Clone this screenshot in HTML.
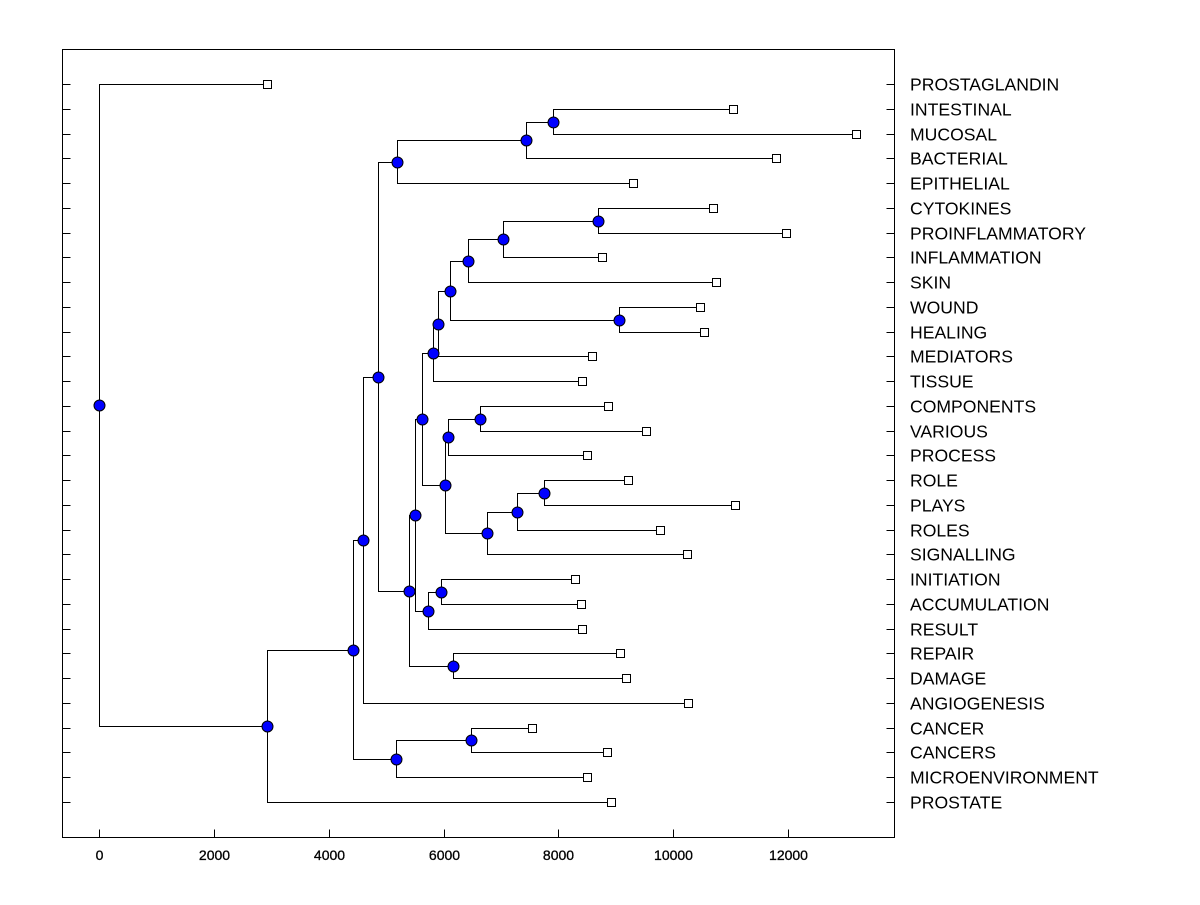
<!DOCTYPE html>
<html><head><meta charset="utf-8"><style>
body{margin:0;background:#fff}
svg text{font-family:"Liberation Sans",Arial,sans-serif}
</style></head><body>
<svg id="c" width="1200" height="900" xmlns="http://www.w3.org/2000/svg">
<rect width="1200" height="900" fill="#fff"/>
<g id="plot"></g>
</svg>
<script>
const labels=["PROSTAGLANDIN","INTESTINAL","MUCOSAL","BACTERIAL","EPITHELIAL","CYTOKINES","PROINFLAMMATORY","INFLAMMATION","SKIN","WOUND","HEALING","MEDIATORS","TISSUE","COMPONENTS","VARIOUS","PROCESS","ROLE","PLAYS","ROLES","SIGNALLING","INITIATION","ACCUMULATION","RESULT","REPAIR","DAMAGE","ANGIOGENESIS","CANCER","CANCERS","MICROENVIRONMENT","PROSTATE"];
const leafValues=[2927,11045,13188,11794,9303,10697,11969,8763,10749,10470,10540,8589,8415,8868,9530,8502,9216,11080,9774,10244,8293,8397,8415,9077,9181,10261,7544,8850,8502,8920];
// merges: [name, childA, childB, height]; children are leaf indices (numbers) or node names
const merges=[
["J",1,2,7909],["I","J",3,7439],["G","I",4,5192],
["BB",5,6,8693],["AA","BB",7,7038],["Y","AA",8,6429],["Z",9,10,9059],["X","Y","Z",6115],["W","X",11,5906],["P","W",12,5819],
["T",13,14,6638],["R","T",15,6080],["V",16,17,7752],["U","V",18,7282],["S","U",19,6760],["Q","R","S",6028],["M","P","Q",5627],
["O",20,21,5958],["N","O",22,5732],["K","M","N",5505],["L",23,24,6167],["H","K","L",5401],["F","G","H",4861],["C","F",25,4599],
["E",26,27,6481],["D","E",28,5174],["B","C","D",4425],["A","B",29,2927],["root",0,"A",0]];
const xTicks=[0,2000,4000,6000,8000,10000,12000];

const L=62.5,R=894.5,T=49.5,B=837.5;
const px=v=>Math.round(v)+0.5;
const xs=v=>px(99+v*(788-99)/12000);
const ys=i=>px(84+i*(802-84)/29);
const g=document.getElementById('plot');
const NS="http://www.w3.org/2000/svg";
function mk(t,a){const e=document.createElementNS(NS,t);for(const k in a)e.setAttribute(k,a[k]);g.appendChild(e);return e;}

const frame=mk('rect',{x:L,y:T,width:R-L,height:B-T,fill:'none',stroke:'#000','stroke-width':1,'shape-rendering':'crispEdges'});


xTicks.forEach(v=>{
  const t=mk('line',{x1:xs(v),x2:xs(v),y1:B,y2:B-8,stroke:'#000','shape-rendering':'crispEdges'});
  
  
  const tx=mk('text',{x:xs(v),y:860,'text-anchor':'middle','font-size':14,stroke:'#000','stroke-width':0.3});
  tx.textContent=v;
  
  
});
labels.forEach((n,i)=>{
  const y=ys(i);
  const t1=mk('line',{x1:L,x2:L+8,y1:y,y2:y,stroke:'#000','shape-rendering':'crispEdges'});
  
  
  const t2=mk('line',{x1:R-8,x2:R,y1:y,y2:y,stroke:'#000','shape-rendering':'crispEdges'});
  
  
  const tx=mk('text',{x:910,y:y+6,'font-size':17.6});
  tx.textContent=n;
  
  
});
const pos={};
labels.forEach((n,i)=>{pos[i]={x:xs(leafValues[i]),y:ys(i),leaf:true};});
merges.forEach(m=>{const a=pos[m[1]],b=pos[m[2]];pos[m[0]]={x:xs(m[3]),y:px((a.y+b.y)/2-0.5)};});
const dots=[];
merges.forEach(m=>{
  const n=pos[m[0]],a=pos[m[1]],b=pos[m[2]];
  const p=mk('path',{d:`M${a.x},${a.y}H${n.x}V${b.y}H${b.x}`,fill:'none',stroke:'#000','stroke-width':1,'shape-rendering':'crispEdges'});
  
  
  dots.push(n);
});
labels.forEach((n,i)=>{
  const p=pos[i];
  const s=mk('rect',{x:p.x-4,y:p.y-4,width:8,height:8,fill:'#fff',stroke:'#000','shape-rendering':'crispEdges'});
  
  
});
dots.forEach(n=>{
  const c=mk('circle',{cx:n.x,cy:n.y,r:5.5,fill:'#0000ff',stroke:'#000','stroke-width':1});
  
  
});
</script>
</body></html>
